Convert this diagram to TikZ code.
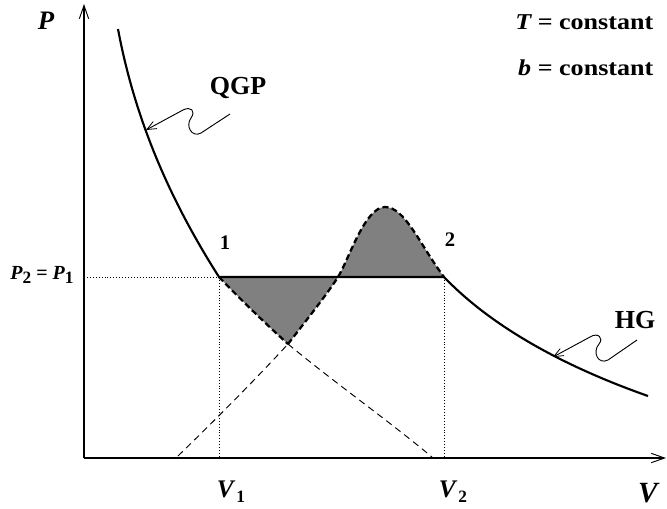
\documentclass[tikz,border=0pt]{standalone}
\usepackage{fontspec}
\setmainfont{Liberation Serif}
\usetikzlibrary{arrows.meta}
\newcommand\lowidx[1]{\raisebox{-0.45ex}{\fontsize{13}{13}\selectfont\bfseries\upshape #1}}
\tikzset{
  axis/.style={line width=0.9pt,-{Straight Barb[length=10pt,width=7pt,line width=0.7pt]}},
  curve/.style={line width=1.6pt},
  thindash/.style={line width=0.7pt,dash pattern=on 5pt off 3.5pt},
  bolddash/.style={line width=1.7pt,dash pattern=on 4.5pt off 2.5pt},
  guide/.style={line width=0.6pt,dash pattern=on 0.7pt off 1.5pt},
  region/.style={fill=black!50,draw=none},
  squiggle/.style={line width=0.7pt,-{Straight Barb[length=7pt,width=6pt,line width=0.6pt]}},
  big/.style={font=\fontsize{19.5}{22}\selectfont\bfseries},
  mid/.style={font=\fontsize{17}{20}\selectfont\bfseries},
  small/.style={font=\fontsize{15}{18}\selectfont\bfseries},
  num/.style={font=\fontsize{15.5}{17}\selectfont\bfseries},
}
\begin{document}
\begin{tikzpicture}[x=0.75pt,y=-0.75pt]
\path[use as bounding box] (0,0) rectangle (667,508);
% key points
\coordinate (O) at (84,458);
\coordinate (Ytop) at (84,4);
\coordinate (Xend) at (666,458);
\coordinate (p1) at (219,277);
\coordinate (p2) at (444,277);
\coordinate (m) at (288,344);
\coordinate (c) at (338,277);
\coordinate (top) at (385,207);
\coordinate (qs) at (118,29);
\coordinate (he) at (648,396);
\coordinate (ae) at (432,457);
\coordinate (bs) at (178,456);
\coordinate (y1) at (84,277);
\coordinate (v1) at (219,458);
\coordinate (v2) at (444,458);
% shaded regions
\fill[region] (p1) .. controls (242,301) and (265,323) .. (m)
  .. controls (305,322) and (328,293) .. (c) -- cycle;
\fill[region] (c) .. controls (349,259) and (365,207) .. (top)
  .. controls (405,207) and (420,245) .. (p2) -- cycle;
% guides
\draw[guide] (y1) -- (p1);
\draw[guide] (p1) -- (v1);
\draw[guide] (p2) -- (v2);
% axes
\draw[axis] (O) -- (Ytop);
\draw[axis] (O) -- (Xend);
% thin dashed continuations
\draw[thindash] (m) .. controls (335,383) and (385,418) .. (ae);
\draw[thindash] (bs) .. controls (215,420) and (255,380) .. (m);
% bold dashed metastable branches
\draw[bolddash] (p1) .. controls (242,301) and (265,323) .. (m);
\draw[bolddash] (m) .. controls (305,322) and (328,293) .. (c)
  .. controls (349,259) and (365,207) .. (top)
  .. controls (405,207) and (420,245) .. (p2);
% solid isotherm
\draw[curve] (qs) .. controls (135,120) and (170,200) .. (p1) -- (p2)
  .. controls (490,325) and (560,365) .. (he);
% squiggle arrows
\coordinate (qa) at (230,114);
\coordinate (qt) at (146,130);
\draw[squiggle] (qa) -- (201,133) .. controls (192,138) and (185,126) .. (191,118)
  .. controls (196,111) and (191,106) .. (183,110) -- (qt);
\coordinate (ha) at (637,340);
\coordinate (ht) at (553,357);
\draw[squiggle] (ha) -- (608,360) .. controls (598,365) and (592,352) .. (599,344)
  .. controls (604,338) and (598,332) .. (590,337) -- (ht);
% labels
\node[font=\fontsize{20}{22}\selectfont\bfseries] (Plab) at (46,21) {\itshape P};
\node[mid,anchor=east] (Tlab) at (658,22) {\scalebox{1.15}[1]{\itshape T\upshape\ = constant}};
\node[mid,anchor=east] (blab) at (658,68) {\scalebox{1.15}[1]{\itshape b\upshape\ =\ constant}};
\node[big] (qgp) at (238,88) {QGP};
\node[big] (hg) at (635,320) {HG};
\node[num] (n1) at (225,243) {1};
\node[num] (n2) at (450,240) {2};
\node[small] (pp) at (42,275) {\itshape P\lowidx{2}\upshape\ = \itshape P\lowidx{1}};
\node[font=\fontsize{19}{22}\selectfont\bfseries] (V1) at (231,492) {\itshape V\kern2pt\lowidx{1}};
\node[font=\fontsize{19}{22}\selectfont\bfseries] (V2) at (453,492) {\itshape V\kern2pt\lowidx{2}};
\node[font=\fontsize{22}{24}\selectfont\bfseries] (V) at (648,493) {\itshape V};
\end{tikzpicture}
\end{document}
